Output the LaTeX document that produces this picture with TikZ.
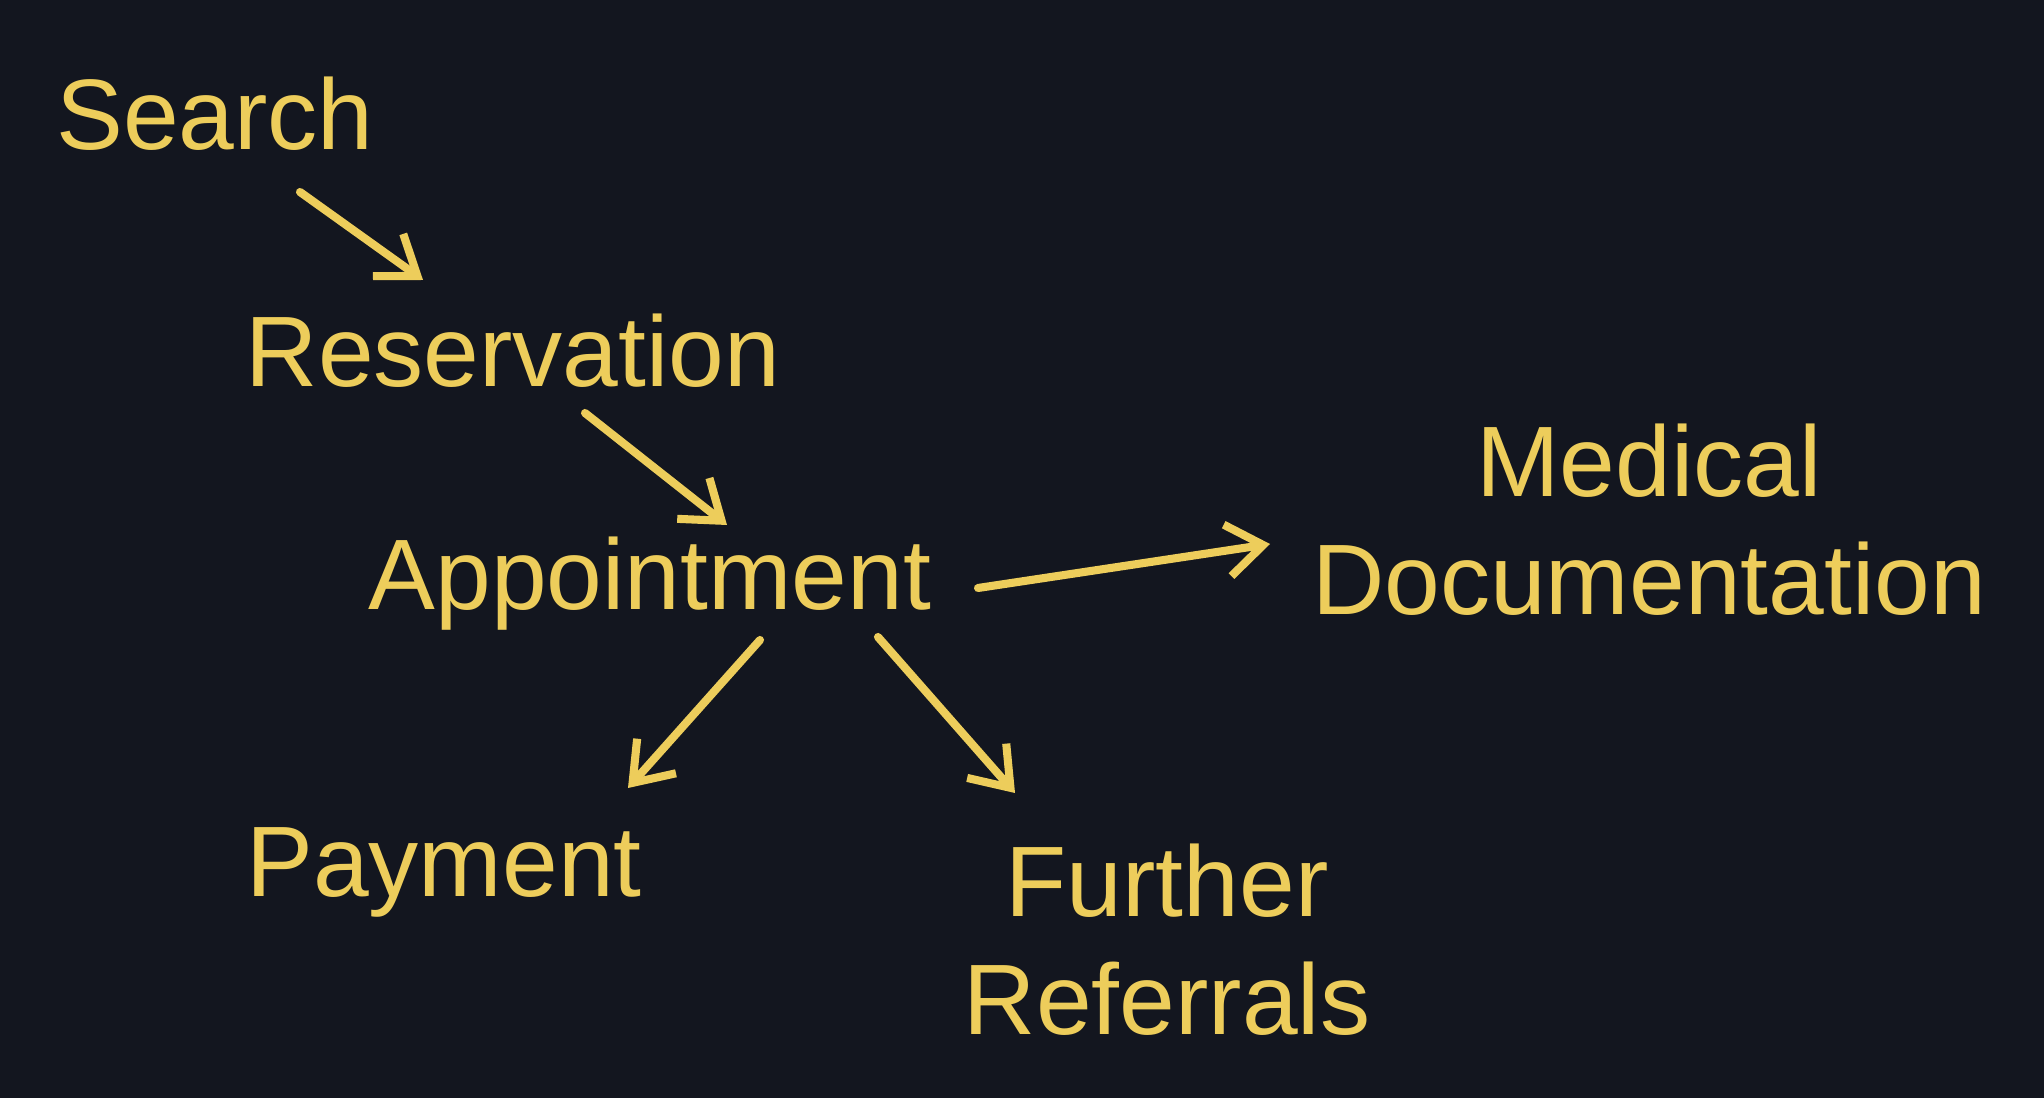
\documentclass[tikz,border=0pt]{standalone}
\usepackage{fontspec}
\setmainfont{Liberation Sans}
\usetikzlibrary{arrows.meta}
\definecolor{bgc}{HTML}{13161F}
\definecolor{ink}{HTML}{EDCD5B}
\begin{document}
\begin{tikzpicture}[x=1cm,y=-1cm,
  lbl/.style={text=ink, inner sep=0pt, font=\fontsize{28.5}{33.5}\selectfont},
  conn/.style={draw=ink, line width=2.3pt, line cap=round, line join=round,
    -{Straight Barb[length=0.36cm, width=0.52cm, line width=2.3pt]}}]
\fill[bgc] (0,0) rectangle (20.44,10.98);
\useasboundingbox (0,0) rectangle (20.44,10.98);

\node[lbl, anchor=base] (search) at (2.15,1.50) {Search};
\node[lbl, anchor=base] (res) at (5.13,3.87) {Reservation};
\node[lbl, anchor=base] (app) at (6.50,6.10) {Appointment};
\node[lbl, anchor=base] (pay) at (4.44,8.97) {Payment};
\node[lbl, align=center] (med) at (16.49,5.20) {Medical\\Documentation};
\node[lbl, align=center] (fur) at (11.67,9.40) {Further\\Referrals};

\coordinate (s1) at (3.00,1.92);  \coordinate (s2) at (4.23,2.80);
\coordinate (r1) at (5.85,4.13);  \coordinate (r2) at (7.27,5.25);
\coordinate (a1) at (9.78,5.88);  \coordinate (a2) at (12.70,5.44);
\coordinate (p1) at (7.60,6.40);  \coordinate (p2) at (6.28,7.88);
\coordinate (f1) at (8.78,6.37);  \coordinate (f2) at (10.15,7.93);

\draw[conn] (s1) -- (s2);
\draw[conn] (r1) -- (r2);
\draw[conn] (a1) -- (a2);
\draw[conn] (p1) -- (p2);
\draw[conn] (f1) -- (f2);
\end{tikzpicture}
\end{document}
